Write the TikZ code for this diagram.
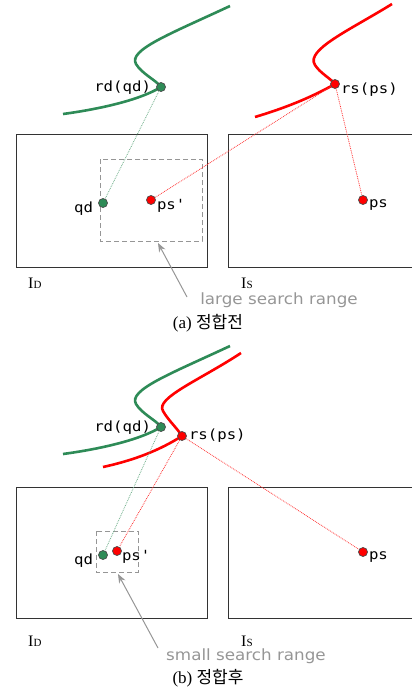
\documentclass[tikz,border=0pt]{standalone}
\usepackage{fontspec}
\setmainfont{Liberation Serif}
\newfontfamily\krfont{Noto Sans CJK KR}
\newfontfamily\monofont[FakeStretch=1.12]{DejaVu Sans Mono}
\newfontfamily\notefont[FakeStretch=1.08]{DejaVu Sans}
\usetikzlibrary{positioning,arrows.meta}

\definecolor{dgreen}{RGB}{46,139,87}
\definecolor{lgray}{RGB}{150,150,150}

\begin{document}
\begin{tikzpicture}[
    x=1pt, y=-1pt,
    imgframe/.style={draw=black!80, line width=0.8pt},
    searchbox/.style={draw=lgray, line width=1pt, dash pattern=on 5pt off 3pt},
    gcurve/.style={draw=dgreen, line width=2.6pt},
    rcurve/.style={draw=red, line width=2.6pt},
    gdot/.style={circle, draw=black!70, fill=dgreen, inner sep=0pt, minimum size=9pt, line width=0.7pt},
    rdot/.style={circle, draw=black!70, fill=red, inner sep=0pt, minimum size=9pt, line width=0.7pt},
    glink/.style={draw=dgreen!70, densely dotted, line width=0.8pt},
    rlink/.style={draw=red!80, densely dotted, line width=0.8pt},
    lbl/.style={font=\monofont\fontsize{14}{14}\selectfont, inner sep=1pt},
    imgname/.style={font=\fontsize{16}{16}\selectfont, inner sep=0pt},
    note/.style={font=\notefont\fontsize{15.5}{16}\selectfont, text=lgray, inner sep=1pt},
    caption/.style={font=\fontsize{17}{17}\selectfont, inner sep=1pt},
    pointer/.style={-{Stealth[length=9pt,width=7pt]}, draw=lgray, line width=1pt}
]
\useasboundingbox (0,0) rectangle (412,691);

% --- (a) before registration ---

% images
\draw[imgframe] (16,134) rectangle (207,267);
\draw[imgframe] (228,134) rectangle (420,267);
\node[imgname, anchor=base west] (idA) at (28,288) {I{\fontsize{11}{11}\selectfont D}};
\node[imgname, anchor=base west] (isA) at (241,288) {I{\fontsize{11}{11}\selectfont S}};

% search range
\draw[searchbox] (100,159) rectangle (202,241);
\coordinate (rangeA) at (158,243);

% surfaces
\draw[gcurve] (230,6) .. controls (170,34) and (128,50) .. (136,64)
    .. controls (142,74) and (156,80) .. (161,87)
    .. controls (140,100) and (100,109) .. (63,114);
\draw[rcurve] (392,4) .. controls (350,30) and (305,50) .. (315,65)
    .. controls (320,73) and (330,78) .. (335,84)
    .. controls (310,98) and (285,108) .. (255,117);

% points
\node[gdot] (rdA) at (161,87) {};
\node[rdot] (rsA) at (335,84) {};
\node[gdot] (qdA) at (103,203) {};
\node[rdot] (psdA) at (151,200) {};
\node[rdot] (psA) at (363,200) {};

\node[lbl, anchor=east] at ([xshift=-4pt,yshift=-1pt]rdA.west) {rd(qd)};
\node[lbl, anchor=north west] at ([xshift=0pt,yshift=2pt]rsA.east) {rs(ps)};
\node[lbl, anchor=north east] at ([xshift=-4pt,yshift=2pt]qdA.west) {qd};
\node[lbl, anchor=north west] at ([xshift=0pt,yshift=2pt]psdA.east) {ps'};
\node[lbl, anchor=north west] at ([xshift=0pt,yshift=2pt]psA.east) {ps};

% projections
\draw[glink] (rdA) -- (qdA);
\draw[rlink] (rsA) -- (psdA);
\draw[rlink] (rsA) -- (psA);

\node[note] (largeA) at (279,300) {large search range};
\coordinate (fromA) at (187,297);
\draw[pointer] (fromA) -- (rangeA);
\node[caption] (capA) at (208,323) {(a) {\krfont 정합전}};

% --- (b) after registration ---

\draw[imgframe] (16,487) rectangle (207,618);
\draw[imgframe] (228,487) rectangle (420,618);
\node[imgname, anchor=base west] (idB) at (28,646) {I{\fontsize{11}{11}\selectfont D}};
\node[imgname, anchor=base west] (isB) at (241,646) {I{\fontsize{11}{11}\selectfont S}};

\draw[searchbox] (96,531) rectangle (138,572);
\coordinate (rangeB) at (118,574);

\draw[gcurve] (230,346) .. controls (170,374) and (128,390) .. (136,404)
    .. controls (142,414) and (156,420) .. (161,427)
    .. controls (140,440) and (100,449) .. (63,454);
\draw[rcurve] (241,353) .. controls (200,380) and (155,398) .. (163,411)
    .. controls (168,420) and (177,428) .. (182,436)
    .. controls (160,450) and (135,460) .. (103,467);

\node[gdot] (rdB) at (161,427) {};
\node[rdot] (rsB) at (182,436) {};
\node[gdot] (qdB) at (103,555) {};
\node[rdot] (psdB) at (117,551) {};
\node[rdot] (psB) at (363,552) {};

\node[lbl, anchor=east] at ([xshift=-4pt,yshift=-1pt]rdB.west) {rd(qd)};
\node[lbl, anchor=west] at ([xshift=1pt]rsB.east) {rs(ps)};
\node[lbl, anchor=north east] at ([xshift=-4pt,yshift=2pt]qdB.west) {qd};
\node[lbl, anchor=north west] at ([xshift=-1pt,yshift=2pt]psdB.east) {ps'};
\node[lbl, anchor=north west] at ([xshift=0pt,yshift=2pt]psB.east) {ps};

\draw[glink] (rdB) -- (qdB);
\draw[rlink] (rsB) -- (psdB);
\draw[rlink] (rsB) -- (psB);

\node[note] (smallB) at (246,656) {small search range};
\coordinate (fromB) at (158,648);
\draw[pointer] (fromB) -- (rangeB);
\node[caption] (capB) at (208,678) {(b) {\krfont 정합후}};

\end{tikzpicture}
\end{document}
